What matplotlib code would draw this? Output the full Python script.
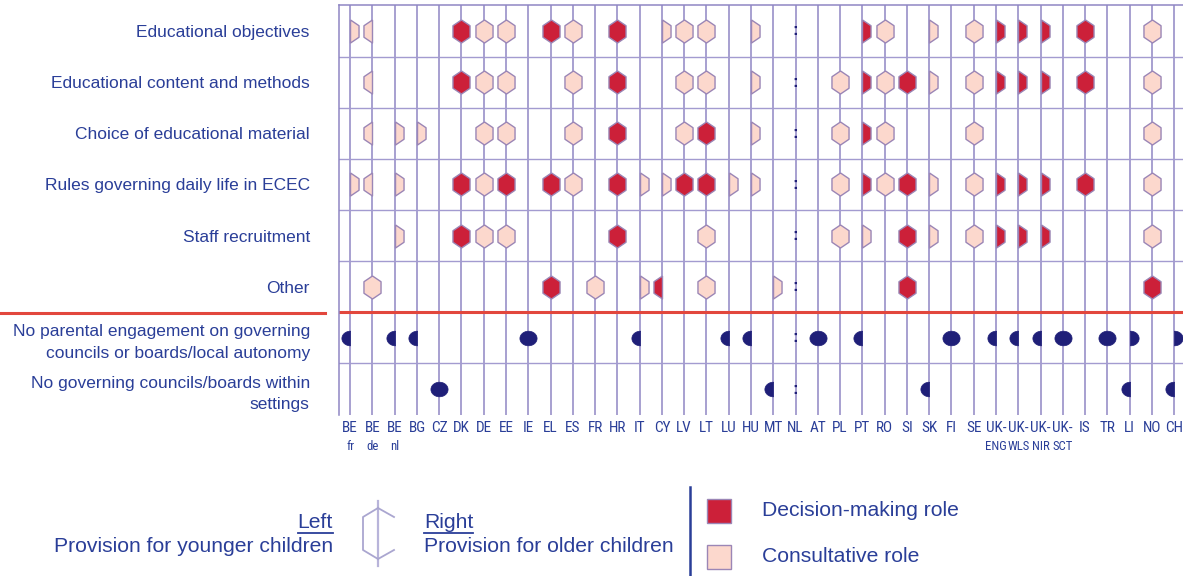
import numpy as np
import matplotlib.pyplot as plt
from matplotlib import font_manager
from matplotlib.patches import Rectangle

# =============================================
#                    DATOS
# =============================================

countries = ["BE", "BE", "BE", "BG", "CZ", "DK", "DE", "EE", "IE", "EL",
             "ES", "FR", "HR", "IT", "CY", "LV", "LT", "LU", "HU", "MT",
             "NL", "AT", "PL", "PT", "RO", "SI", "SK", "FI", "SE", "UK-",
             "UK-", "UK-", "UK-", "IS", "TR", "LI", "NO", "CH"]
countries_sub = ["fr", "de", "nl", "", "", "", "", "", "", "",
                 "", "", "", "", "", "", "", "", "", "",
                 "", "", "", "", "", "", "", "", "", "ENG",
                 "WLS", "NIR", "SCT", "", "", "", "", ""]

row_labels = ["Educational objectives",
              "Educational content and methods",
              "Choice of educational material",
              "Rules governing daily life in ECEC",
              "Staff recruitment",
              "Other",
              "No parental engagement on governing\ncouncils or boards/local autonomy",
              "No governing councils/boards within\nsettings"]

# D = decision-making, C = consultative, l/r = only left/right half, ':' = not available
#              BEfr  BEde  BEnl  BG    CZ   DK   DE   EE   IE   EL   ES   FR   HR   IT    CY    LV   LT   LU    HU    MT    NL   AT   PL   PT    RO   SI   SK    FI   SE   ENG   WLS   NIR   SCT  IS   TR   LI   NO   CH
objectives = ["Cr", "Cl", "",   "",   "",  "D", "C", "C", "",  "D", "C", "",  "D", "",   "Cr", "C", "C", "",   "Cr", "",   ":", "",  "",  "Dr", "C", "",  "Cr", "",  "C", "Dr", "Dr", "Dr", "",  "D", "",  "",  "C", ""]
content    = ["",   "Cl", "",   "",   "",  "D", "C", "C", "",  "",  "C", "",  "D", "",   "",   "C", "C", "",   "Cr", "",   ":", "",  "C", "Dr", "C", "D", "Cr", "",  "C", "Dr", "Dr", "Dr", "",  "D", "",  "",  "C", ""]
material   = ["",   "Cl", "Cr", "Cr", "",  "",  "C", "C", "",  "",  "C", "",  "D", "",   "",   "C", "D", "",   "Cr", "",   ":", "",  "C", "Dr", "C", "",  "",   "",  "C", "",   "",   "",   "",  "",  "",  "",  "C", ""]
daily_life = ["Cr", "Cl", "Cr", "",   "",  "D", "C", "D", "",  "D", "C", "",  "D", "Cr", "Cr", "D", "D", "Cr", "Cr", "",   ":", "",  "C", "Dr", "C", "D", "Cr", "",  "C", "Dr", "Dr", "Dr", "",  "D", "",  "",  "C", ""]
staff      = ["",   "",   "Cr", "",   "",  "D", "C", "C", "",  "",  "",  "",  "D", "",   "",   "",  "C", "",   "",   "",   ":", "",  "C", "Cr", "",  "D", "Cr", "",  "C", "Dr", "Dr", "Dr", "",  "",  "",  "",  "C", ""]
other      = ["",   "C",  "",   "",   "",  "",  "",  "",  "",  "D", "",  "C", "",  "Cr", "Dl", "",  "C", "",   "",   "Cr", ":", "",  "",  "",   "",  "D", "",   "",  "",  "",   "",   "",   "",  "",  "",  "",  "D", ""]

# F = full dot, l/r = left/right half
no_engagement = ["l", "", "l", "l", "",  "", "", "", "F", "", "", "", "", "l", "", "", "", "l", "l", "",  ":", "F", "", "l", "", "", "",  "F", "", "l", "l", "l", "F", "", "F", "r", "", "r"]
no_councils   = ["",  "", "",  "",  "F", "", "", "", "",  "", "", "", "", "",  "", "", "", "",  "",  "l", ":", "",  "", "",  "", "", "l", "",  "", "",  "",  "",  "",  "", "",  "l", "", "l"]

hex_rows = [objectives, content, material, daily_life, staff, other]
dot_rows = [no_engagement, no_councils]

# =============================================
#                   ESTILO
# =============================================

navy = "#2a3e98"
dot_col = "#1f1f78"
grid_col = "#8f86c4"
hgrid_col = "#a39bd0"
edge_col = "#9b86b6"
red = "#cc2039"
pink = "#fcd8cd"
sep_red = "#e2473d"

plt.rcParams['font.family'] = ['Liberation Sans', 'DejaVu Sans']

# Fuente estrecha para los códigos de país, si existe
names = {f.name for f in font_manager.fontManager.ttflist}
narrow_name = next((n for n in ['Liberation Sans Narrow', 'Roboto Condensed', 'Open Sans Condensed',
                                'DejaVu Sans Condensed', 'Noto Sans Condensed'] if n in names), None)
if narrow_name is None:
    narrow_name = next((n for n in sorted(names) if 'Narrow' in n or 'Condensed' in n), None)
if narrow_name is not None:
    narrow = [narrow_name, 'DejaVu Sans']
    fs_code, fs_sub = 11, 9.2
else:
    narrow = ['Liberation Sans', 'DejaVu Sans']
    fs_code, fs_sub = 9, 7

w = 0.74
hex_shape = {"": [(0, 1), (w, 0.5), (w, -0.5), (0, -1), (-w, -0.5), (-w, 0.5), (0, 1)],
             "l": [(0, 1), (-w, 0.5), (-w, -0.5), (0, -1), (0, 1)],
             "r": [(0, 1), (w, 0.5), (w, -0.5), (0, -1), (0, 1)]}
t = np.linspace(0, np.pi, 30)
dot_shape = {"F": list(zip(np.cos(2 * t), 0.85 * np.sin(2 * t))),
             "l": list(zip(-np.sin(t), 0.85 * np.cos(t))) + [(0, 0.85)],
             "r": list(zip(np.sin(t), 0.85 * np.cos(t))) + [(0, 0.85)]}

W, H = 1183, 576
fig = plt.figure(figsize=(W / 100, H / 100), dpi=100)
ax = fig.add_axes([339 / W, 1 - 414.6 / H, 844 / W, 409.2 / H])
ax.set_xlim(-0.5, -0.5 + 844 / 22.27)
ax.set_ylim(7.5, -0.5)

# Rejilla
for i in range(len(countries)):
    ax.axvline(i, color=grid_col, lw=1.1, zorder=1)
for j in range(len(row_labels) - 1):
    if j == 5:
        ax.axhline(j + 0.5, color=sep_red, lw=2.2, zorder=2)
    else:
        ax.axhline(j + 0.5, color=hgrid_col, lw=1.0, zorder=1)

for s in ["right", "bottom"]:
    ax.spines[s].set_visible(False)
for s in ["left", "top"]:
    ax.spines[s].set_color(grid_col)
    ax.spines[s].set_linewidth(1.1)

# Hexágonos
for j, row in enumerate(hex_rows):
    for i, code in enumerate(row):
        if code == "":
            continue
        if code == ":":
            ax.text(i, j, ":", ha="center", va="center", color=dot_col,
                    fontsize=12, fontweight="bold", zorder=4)
            continue
        fc = red if code[0] == "D" else pink
        ax.plot(i, j, linestyle="none", marker=hex_shape[code[1:]], ms=16.6,
                mfc=fc, mec=edge_col, mew=1.0, zorder=3)

# Puntos
for j, row in enumerate(dot_rows):
    for i, code in enumerate(row):
        if code == "":
            continue
        if code == ":":
            ax.text(i, j + 6, ":", ha="center", va="center", color=dot_col,
                    fontsize=12, fontweight="bold", zorder=4)
            continue
        ax.plot(i, j + 6, linestyle="none", marker=dot_shape[code], ms=12.4,
                mfc=dot_col, mec=dot_col, mew=0.5, zorder=3)

ax.set_xticks(range(len(countries)), countries)
ax.set_yticks(range(len(row_labels)), row_labels)
ax.tick_params(axis="x", length=0, pad=4.5, labelsize=fs_code, labelcolor=navy)
ax.tick_params(axis="y", length=0, pad=21, labelsize=12.5, labelcolor=navy)
for lbl in ax.get_xticklabels():
    lbl.set_fontfamily(narrow)
for lbl in ax.get_yticklabels():
    lbl.set_linespacing(1.55)

for i, sub in enumerate(countries_sub):
    if sub:
        ax.annotate(sub, xy=(i, 0), xycoords=("data", "axes fraction"),
                    xytext=(0, -18.2), textcoords="offset points",
                    ha="center", va="top", color=navy, fontsize=fs_sub, family=narrow)

# =============================================
#                   LEYENDA
# =============================================

lax = fig.add_axes([0, 0, 1, 1], zorder=-1)
lax.set_xlim(0, W)
lax.set_ylim(H, 0)
lax.axis("off")

# tramo izquierdo de la línea roja
lax.plot([0, 325], [313, 313], color=sep_red, lw=2.2)

fs = 15.2
t_left = lax.text(333, 522, "Left", ha="right", va="center", color=navy, fontsize=fs)
lax.text(333, 546, "Provision for younger children", ha="right", va="center", color=navy, fontsize=fs)
t_right = lax.text(424, 522, "Right", ha="left", va="center", color=navy, fontsize=fs)
lax.text(424, 546, "Provision for older children", ha="left", va="center", color=navy, fontsize=fs)

icon_col = "#aaa6d0"
cx = 378
lax.plot([cx, cx], [501, 566], color="#b8b4da", lw=1.6)
lax.plot([cx, cx - 15, cx - 15, cx], [508, 517, 550, 559], color=icon_col, lw=1.3)
lax.plot([cx, cx + 16], [508, 517], color=icon_col, lw=1.3)
lax.plot([cx, cx + 16], [559, 550], color=icon_col, lw=1.3)

lax.plot([690, 690], [487, 576], color=navy, lw=1.8)
lax.add_patch(Rectangle((707, 499), 24, 24, fc=red, ec=edge_col, lw=1.0))
lax.add_patch(Rectangle((707, 545), 24, 24, fc=pink, ec=edge_col, lw=1.0))
lax.text(762, 511, "Decision-making role", ha="left", va="center", color=navy, fontsize=fs)
lax.text(762, 556, "Consultative role", ha="left", va="center", color=navy, fontsize=fs)

# Subrayado de "Left" y "Right"
fig.canvas.draw()
for txt in [t_left, t_right]:
    bb = txt.get_window_extent()
    lax.plot([bb.x0, bb.x1], [H - bb.y0 + 1, H - bb.y0 + 1], color=navy, lw=1.3)

fig.savefig("out.png", dpi=100)
